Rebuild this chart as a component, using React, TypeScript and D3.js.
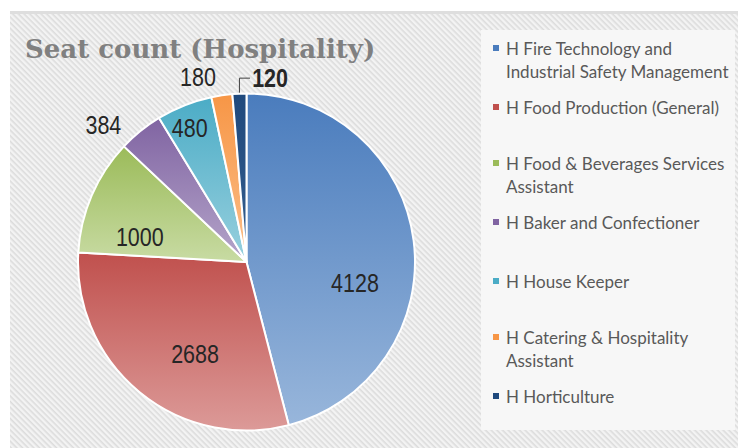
import React from 'react';
import * as d3 from 'd3';

const width = 738;
const height = 448;

// data
const categories = [
  'H Fire Technology and Industrial Safety Management',
  'H Food Production (General)',
  'H Food & Beverages Services Assistant',
  'H Baker and Confectioner',
  'H House Keeper',
  'H Catering & Hospitality Assistant',
  'H Horticulture',
];
const seats = [4128, 2688, 1000, 384, 480, 180, 120];
const legendLines = [
  ['H Fire Technology and', 'Industrial Safety Management'],
  ['H Food Production (General)'],
  ['H Food & Beverages Services', 'Assistant'],
  ['H Baker and Confectioner'],
  ['H House Keeper'],
  ['H Catering & Hospitality', 'Assistant'],
  ['H Horticulture'],
];

// colours: [top, bottom] of each slice gradient
const colors = [
  ['#4a7cbd', '#98b6db'],
  ['#c0504d', '#dc9a98'],
  ['#9bbb59', '#c8dba3'],
  ['#8064a2', '#b5a5ca'],
  ['#4bacc6', '#98d0de'],
  ['#f79646', '#fbbf8a'],
  ['#1f497d', '#365f8f'],
];

// where Excel dropped each data label (angle in degrees, radius factor)
const labelPlace = [
  { a: 101, k: 0.656 },
  { a: 209, k: 0.63 },
  { a: 283, k: 0.65 },
  { a: 313.7, k: 1.175 },
  { a: 337, k: 0.863 },
  { a: 345.3, k: 1.134 },
  { a: 7.3, k: 1.1 },
];
const legendY = [48, 107, 163, 222, 281, 337, 396];

const cx = 246.5;
const cy = 262;
const radius = 168.5;

function polar(deg: number, r: number) {
  const t = (deg * Math.PI) / 180;
  return [cx + r * Math.sin(t), cy - r * Math.cos(t)];
}

export default function App() {
  const pie = d3.pie<number>().sort(null).value((d) => d);
  const arcs = pie(seats);
  const arc = d3.arc<d3.PieArcDatum<number>>().innerRadius(0).outerRadius(radius);

  const last = arcs[arcs.length - 1];
  const midLast = ((last.startAngle + last.endAngle) / 2) * 180 / Math.PI;
  const [lx0, ly0] = polar(midLast, radius);
  const [tx, ty] = polar(labelPlace[6].a, radius * labelPlace[6].k);

  return (
    <svg width={width} height={height} style={{ position: 'absolute', left: 0, top: 0 }}>
      <defs>
        <pattern id="hatch" width="4" height="4" patternUnits="userSpaceOnUse" patternTransform="rotate(45)">
          <rect width="4" height="4" fill="#f3f3f3" />
          <rect width="4" height="1.6" fill="#dcdcdc" />
        </pattern>
        {colors.map((c, i) => (
          <linearGradient key={i} id={`g${i}`} x1="0" y1="0" x2="0" y2="1">
            <stop offset="0" stopColor={c[0]} />
            <stop offset="1" stopColor={c[1]} />
          </linearGradient>
        ))}
      </defs>
      <rect width={width} height={height} fill="#fff" />
      <rect x={10} y={11} width={width - 10} height={height - 11} fill="url(#hatch)" />
      <rect x={10} y={11} width={width - 10} height={3} fill="#dedede" />
      <rect x={481} y={30} width={254} height={400} fill="#f7f7f7" />

      <text x={25} y={58} fontFamily="'DejaVu Serif', serif" fontWeight="bold" fontSize={26} fill="#808080">
        Seat count (Hospitality)
      </text>

      <g transform={`translate(${cx},${cy})`}>
        {arcs.map((d, i) => (
          <path key={i} d={arc(d) || ''} fill={`url(#g${i})`} stroke="#fff" strokeWidth={2} strokeLinejoin="round" />
        ))}
      </g>

      <path
        d={`M${lx0},${ly0 - 1}V${ty}H${tx - 20}`}
        fill="none"
        stroke="#404040"
        strokeWidth={1}
      />

      <g fontFamily="'Liberation Sans', Arial, sans-serif" fontSize={25} fill="#262626">
        {seats.map((v, i) => {
          const [x, y] = polar(labelPlace[i].a, radius * labelPlace[i].k);
          return (
            <text
              key={i}
              transform={`translate(${x},${y}) scale(0.86,1)`}
              textAnchor="middle"
              dominantBaseline="central"
              fontWeight={i === 6 ? 'bold' : 'normal'}
            >
              {v}
            </text>
          );
        })}
      </g>

      <g fontFamily="Lato, 'Open Sans', sans-serif" fontSize={17} fill="#595959">
        {categories.map((c, i) => (
          <g key={c}>
            <rect x={493} y={legendY[i] - 3} width={6} height={6} fill={colors[i][0]} />
            {legendLines[i].map((line, j) => (
              <text key={j} x={506} y={legendY[i] + j * 23} dominantBaseline="central">
                {line}
              </text>
            ))}
          </g>
        ))}
      </g>
    </svg>
  );
}
